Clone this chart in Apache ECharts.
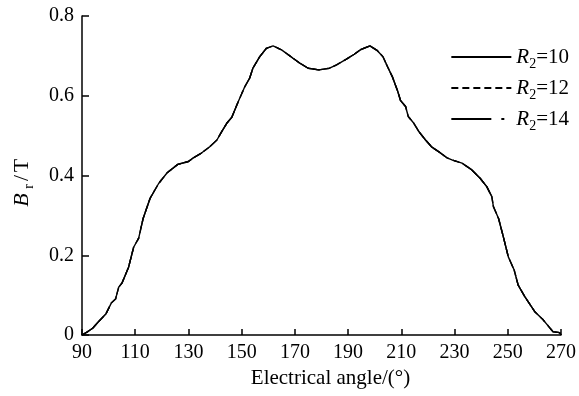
<!DOCTYPE html>
<html lang="en">
<head>
    <meta charset="UTF-8">
    <title>Br vs electrical angle</title>
    <script src="https://cdn.jsdelivr.net/npm/echarts@6/dist/echarts.min.js"></script>
    <style>
        body { margin: 0; background: #fff; }
    </style>
</head>
<body>
    <div id="main" style="width: 579px;height:396px;"></div>
    <script type="text/javascript">
        // values; the three curves lie on top of each other
        var angles = [90, 92, 94, 96, 99, 101, 102.6, 103.8, 105, 107.5, 109.4, 111.3, 113, 115.6, 118.8,
            122, 126, 130, 132, 134.4, 138, 140.7, 142.5, 144.4, 146.3, 148.7, 151.2, 153, 154.2, 156.8,
            159.3, 161.8, 165, 169.3, 172, 175, 179, 183, 185.5, 189.2, 192.3, 194.8, 198.2, 201, 203.1,
            204.8, 206.6, 208.5, 209.7, 211.6, 212.6, 214.7, 216.6, 219.1, 221.5, 224, 227, 229, 232.8,
            236.5, 239.6, 242.1, 244, 244.6, 246.5, 248.3, 250.2, 252.4, 253.9, 256.4, 260.2, 263.3, 267,
            269.5, 270];
        var br10 = [0, 0.008, 0.017, 0.032, 0.053, 0.080, 0.09, 0.12, 0.13, 0.17, 0.22, 0.243, 0.293, 0.343, 0.38,
            0.407, 0.428, 0.435, 0.445, 0.454, 0.472, 0.489, 0.51, 0.531, 0.546, 0.585, 0.623, 0.644, 0.669, 0.698,
            0.719, 0.725, 0.715, 0.694, 0.681, 0.669, 0.665, 0.669, 0.677, 0.691, 0.704, 0.716, 0.725, 0.713, 0.698,
            0.673, 0.648, 0.614, 0.588, 0.573, 0.548, 0.531, 0.51, 0.489, 0.471, 0.46, 0.445, 0.439, 0.431,
            0.414, 0.393, 0.372, 0.347, 0.322, 0.293, 0.247, 0.196, 0.163, 0.125, 0.096, 0.058, 0.038, 0.008,
            0.006, 0];
        var br12 = br10;
        var br14 = br10;
        var seriesNames = ['R2=10', 'R2=12', 'R2=14'];
        var xTicks = [90, 110, 130, 150, 170, 190, 210, 230, 250, 270];

        var serif = "'Liberation Serif', 'Times New Roman', serif";

        function pairs(ys) {
            return angles.map(function (a, i) { return [a, ys[i]]; });
        }

        var myChart = echarts.init(document.getElementById('main'));
        var option = {
            animation: false,
            backgroundColor: '#fff',
            textStyle: { fontFamily: serif, color: '#000' },
            grid: { left: 81, right: 16, top: 16, bottom: 61 },
            legend: {
                orient: 'vertical',
                right: 5,
                top: 38,
                itemWidth: 60,
                itemHeight: 14,
                itemGap: 3,
                data: seriesNames,
                itemStyle: { opacity: 0, borderWidth: 0 },
                formatter: function (name) {
                    return '{i|R}{s|2}' + name.slice(2);
                },
                textStyle: {
                    fontFamily: serif,
                    fontSize: 21,
                    color: '#000',
                    lineHeight: 28,
                    rich: {
                        i: { fontFamily: serif, fontSize: 21, fontStyle: 'italic', lineHeight: 28, color: '#000' },
                        s: { fontFamily: serif, fontSize: 14, lineHeight: 12, verticalAlign: 'bottom', color: '#000' }
                    }
                }
            },
            xAxis: {
                type: 'value',
                min: 90,
                max: 270,
                name: 'Electrical angle/(°)',
                nameLocation: 'middle',
                nameGap: 30,
                nameTextStyle: { fontFamily: serif, fontSize: 21, color: '#000', padding: [0, 0, 0, 18] },
                axisLine: { lineStyle: { color: '#000', width: 1.5 } },
                axisTick: { inside: true, length: 6, customValues: xTicks, lineStyle: { color: '#000', width: 1.5 } },
                axisLabel: { customValues: xTicks, fontFamily: serif, fontSize: 20, color: '#000', margin: 8 },
                splitLine: { show: false }
            },
            yAxis: {
                type: 'value',
                min: 0,
                max: 0.8,
                interval: 0.2,
                name: '{i|B}{s|r}{n|/}{t|T}',
                nameLocation: 'middle',
                nameGap: 46,
                nameTextStyle: {
                    fontFamily: serif, fontSize: 21, color: '#000', lineHeight: 28, padding: [0, 17, 0, 0],
                    rich: {
                        i: { fontFamily: serif, fontSize: 22, fontStyle: 'italic', lineHeight: 28, width: 20, color: '#000' },
                        s: { fontFamily: serif, fontSize: 14, lineHeight: 12, verticalAlign: 'bottom', width: 7, color: '#000' },
                        n: { fontFamily: serif, fontSize: 22, lineHeight: 28, width: 10, align: 'center', color: '#000' },
                        t: { fontFamily: serif, fontSize: 22, lineHeight: 28, width: 15, color: '#000' }
                    }
                },
                axisLine: { show: true, lineStyle: { color: '#000', width: 1.5 } },
                axisTick: { show: true, inside: true, length: 7, lineStyle: { color: '#000', width: 1.5 } },
                axisLabel: { fontFamily: serif, fontSize: 20, color: '#000', margin: 8 },
                splitLine: { show: false }
            },
            series: [
                {
                    name: seriesNames[0], type: 'line', data: pairs(br10),
                    symbol: 'none', lineStyle: { color: '#000', width: 1.4, type: 'solid' },
                    itemStyle: { color: '#000' }
                },
                {
                    name: seriesNames[1], type: 'line', data: pairs(br12),
                    symbol: 'none', lineStyle: { color: '#000', width: 1.4, type: [7, 4] },
                    itemStyle: { color: '#000' }
                },
                {
                    name: seriesNames[2], type: 'line', data: pairs(br14),
                    symbol: 'none', lineStyle: { color: '#000', width: 1.4, type: [40, 10, 3, 10] },
                    itemStyle: { color: '#000' }
                }
            ]
        };
        myChart.setOption(option);
    </script>
</body>
</html>
